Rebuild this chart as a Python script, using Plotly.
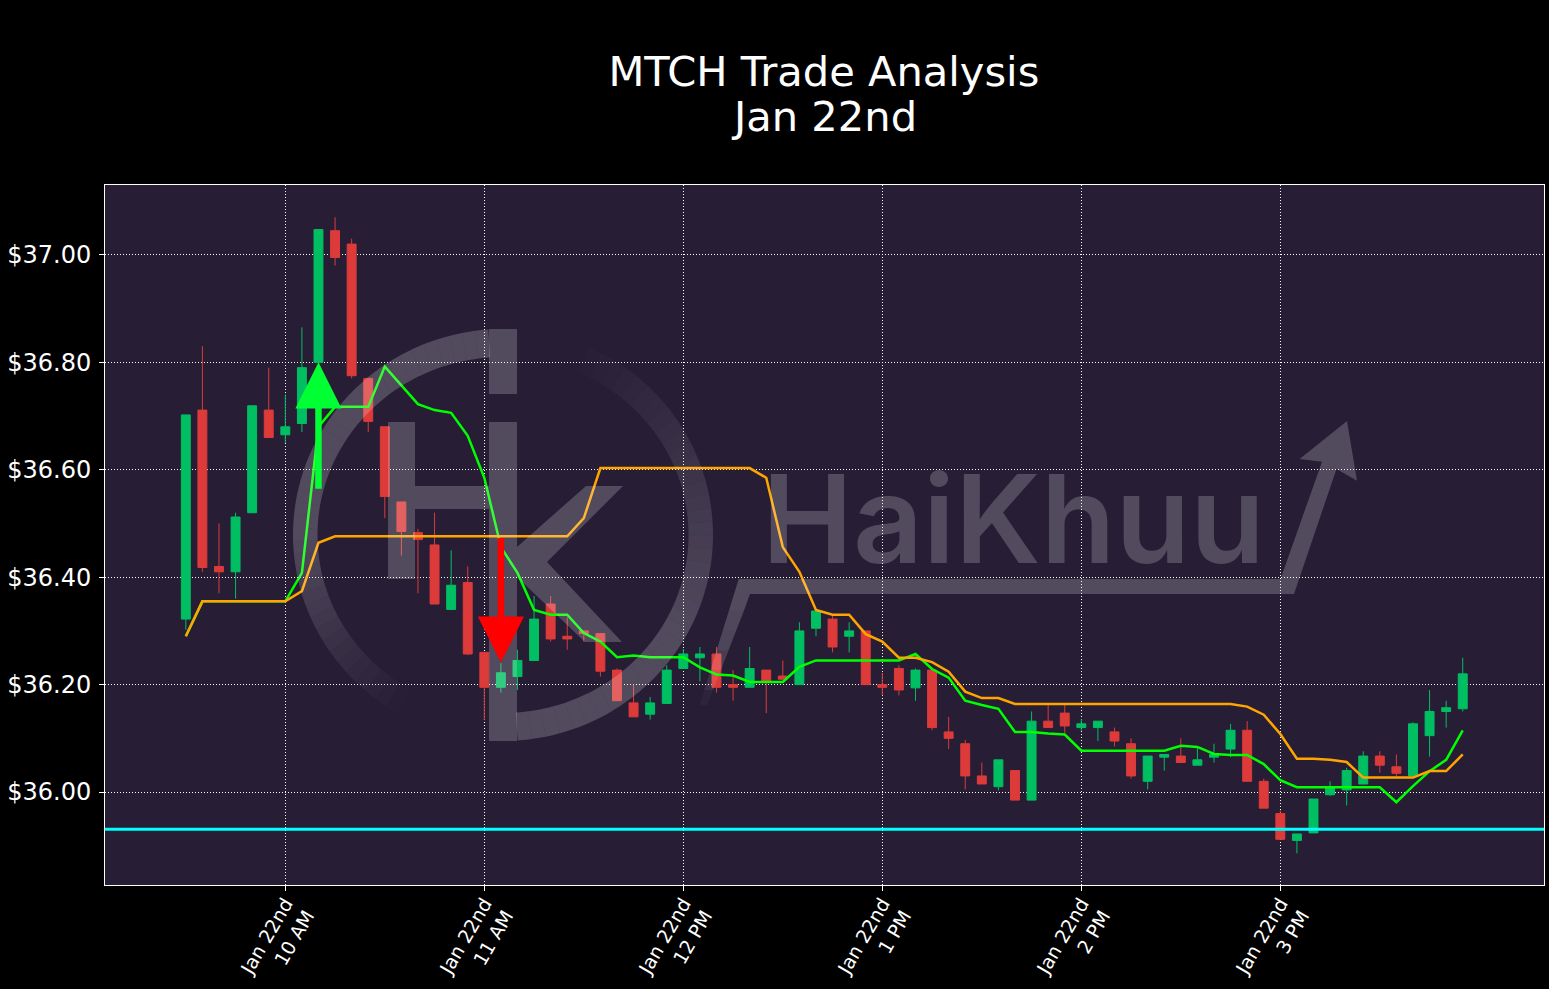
import numpy as np
import pandas as pd
import plotly.graph_objects as go

times = pd.date_range("2024-01-22 09:30", periods=78, freq="5min").strftime("%Y-%m-%d %H:%M").tolist()

opens = [36.322,36.711,36.42,36.41,36.52,36.711,36.665,36.686,36.80,37.045,37.02,36.77,36.68,36.54,36.483,36.46,36.34,36.39,36.26,36.195,
         36.215,36.245,36.35,36.29,36.30,36.295,36.227,36.166,36.145,36.165,36.23,36.25,36.257,36.20,36.195,36.227,36.216,36.20,36.305,36.322,
         36.29,36.30,36.20,36.23,36.194,36.227,36.112,36.09,36.03,36.01,36.04,35.985,36.132,36.147,36.12,36.12,36.112,36.09,36.02,36.065,
         36.067,36.05,36.065,36.08,36.115,36.02,35.96,35.91,35.924,35.995,36.004,36.015,36.067,36.047,36.03,36.105,36.15,36.155]
highs = [36.702,36.83,36.50,36.52,36.719,36.79,36.74,36.865,37.047,37.07,37.03,36.77,36.68,36.54,36.49,36.52,36.45,36.42,36.26,36.24,
         36.265,36.365,36.365,36.325,36.30,36.295,36.23,36.20,36.177,36.236,36.266,36.27,36.27,36.227,36.27,36.227,36.245,36.316,36.337,36.328,
         36.316,36.30,36.222,36.236,36.23,36.227,36.14,36.097,36.055,36.06,36.04,36.15,36.165,36.165,36.136,36.132,36.12,36.10,36.067,36.07,
         36.10,36.085,36.09,36.127,36.132,36.025,35.966,35.922,35.987,36.02,36.045,36.076,36.076,36.07,36.13,36.19,36.17,36.25]
lows = [36.302,36.41,36.37,36.36,36.52,36.66,36.65,36.67,36.80,36.98,36.77,36.67,36.51,36.44,36.37,36.35,36.34,36.255,36.134,36.185,
        36.19,36.245,36.28,36.265,36.28,36.215,36.17,36.14,36.135,36.165,36.23,36.206,36.185,36.17,36.195,36.147,36.21,36.20,36.29,36.26,
        36.26,36.20,36.18,36.18,36.17,36.115,36.08,36.005,36.015,36.003,35.985,35.985,36.12,36.11,36.114,36.095,36.085,36.025,36.005,36.04,
        36.055,36.05,36.055,36.065,36.02,35.97,35.912,35.886,35.924,35.993,35.975,36.015,36.036,36.03,36.03,36.066,36.12,36.15]
closes = [36.702,36.418,36.41,36.512,36.719,36.66,36.68,36.79,37.047,36.995,36.775,36.69,36.55,36.485,36.47,36.35,36.385,36.257,36.195,36.222,
          36.245,36.322,36.285,36.285,36.295,36.225,36.17,36.14,36.166,36.227,36.257,36.257,36.195,36.195,36.23,36.205,36.21,36.30,36.337,36.27,
          36.30,36.20,36.195,36.19,36.227,36.12,36.10,36.03,36.015,36.06,35.985,36.132,36.12,36.123,36.127,36.132,36.095,36.03,36.067,36.07,
          36.055,36.06,36.07,36.115,36.02,35.97,35.912,35.922,35.987,36.01,36.04,36.067,36.05,36.035,36.127,36.15,36.157,36.22]

fast_line = [36.29,36.355,36.355,36.355,36.355,36.355,36.355,36.408,36.68,36.717,36.717,36.717,36.792,36.756,36.722,36.711,36.706,36.663,36.585,36.456,
             36.408,36.339,36.33,36.33,36.296,36.28,36.251,36.254,36.251,36.251,36.251,36.232,36.219,36.217,36.205,36.205,36.205,36.233,36.245,36.245,
             36.245,36.245,36.245,36.245,36.257,36.229,36.213,36.17,36.162,36.155,36.112,36.112,36.109,36.107,36.077,36.077,36.077,36.077,36.077,36.077,
             36.086,36.084,36.071,36.069,36.069,36.052,36.022,36.009,36.009,36.009,36.009,36.009,36.009,35.981,36.011,36.039,36.06,36.115]
slow_line = [36.29,36.355,36.355,36.355,36.355,36.355,36.355,36.374,36.464,36.476,36.476,36.476,36.476,36.476,36.476,36.476,36.476,36.476,36.476,36.476,
             36.476,36.476,36.476,36.476,36.51,36.603,36.603,36.603,36.603,36.603,36.603,36.603,36.603,36.603,36.603,36.585,36.456,36.41,36.339,36.33,
             36.33,36.294,36.28,36.25,36.25,36.242,36.224,36.187,36.175,36.175,36.164,36.164,36.164,36.164,36.164,36.164,36.164,36.164,36.164,36.164,
             36.164,36.164,36.164,36.164,36.159,36.144,36.108,36.062,36.062,36.06,36.056,36.027,36.027,36.027,36.027,36.039,36.039,36.07]

support_level = 35.931
buy_time, buy_price = "2024-01-22 10:10", 36.80
sell_time, sell_price = "2024-01-22 11:05", 36.241

x_tick_vals = ["2024-01-22 10:00","2024-01-22 11:00","2024-01-22 12:00","2024-01-22 13:00","2024-01-22 14:00","2024-01-22 15:00"]
x_tick_text = ["Jan 22nd<br>10 AM","Jan 22nd<br>11 AM","Jan 22nd<br>12 PM","Jan 22nd<br>1 PM","Jan 22nd<br>2 PM","Jan 22nd<br>3 PM"]
y_tick_vals = [36.0,36.2,36.4,36.6,36.8,37.0]
y_tick_text = ["$36.00","$36.20","$36.40","$36.60","$36.80","$37.00"]

W, H = 1549, 989
L, R, T, B = 105, 1544, 185, 885
FONT = "DejaVu Sans"
WM_ALPHA = 0.2


def fx(px):
    return (px - L) / (R - L)


def fy(py):
    return (B - py) / (B - T)


def poly(points, alpha=WM_ALPHA):
    path = "M" + " L".join(f"{fx(a):.5f},{fy(b):.5f}" for a, b in points) + " Z"
    return dict(type="path", path=path, xref="paper", yref="paper", layer="above",
                fillcolor=f"rgba(255,255,255,{alpha:.3f})", line=dict(width=0))


def arc_segments(a0, a1, alpha_fn, n):
    cx, cy, ox, oy, ix, iy = 503, 535, 210, 206, 185.5, 178
    out = []
    edges = np.radians(np.linspace(a0, a1, n + 1))
    for k in range(n):
        sub = np.linspace(edges[k], edges[k + 1], 4)
        pts = [(cx + ox * np.cos(t), cy - oy * np.sin(t)) for t in sub]
        pts += [(cx + ix * np.cos(t), cy - iy * np.sin(t)) for t in sub[::-1]]
        mid = np.degrees((edges[k] + edges[k + 1]) / 2)
        out.append(poly(pts, alpha_fn(mid)))
    return out


def left_alpha(a):
    return float(np.clip(WM_ALPHA * (240 - a) / 60, 0, WM_ALPHA))


def right_alpha(a):
    return float(np.clip(WM_ALPHA * (70 - a) / 100, 0, WM_ALPHA))


wm = []
wm += arc_segments(94, 240, left_alpha, 40)
wm += arc_segments(-86, 70, right_alpha, 40)
wm.append(poly([(489, 329), (517, 329), (517, 394), (489, 394)]))
wm.append(poly([(489, 422), (517, 422), (517, 741), (489, 741)]))
wm.append(poly([(388, 422), (415, 422), (415, 486), (489, 486), (489, 509), (415, 509), (415, 579), (388, 579)]))
wm.append(poly([(517, 547), (586, 486), (623, 486), (547, 562), (622, 642), (585, 642), (517, 577)]))
wm.append(poly([(738.7, 579), (1280.5, 579), (1322, 461.7), (1299.6, 459), (1347, 421), (1357, 480.7),
                (1336.5, 469), (1294, 594), (750, 594), (744.2, 610), (729.1, 610)]))
prev_y = 610
for y_end, a in [(630, 0.19), (650, 0.18), (670, 0.15), (690, 0.09), (705, 0.03)]:
    x_a, x_b = 729.1 - (prev_y - 610) * 0.31, 744.2 - (prev_y - 610) * 0.388
    x_c, x_d = 744.2 - (y_end - 610) * 0.388, 729.1 - (y_end - 610) * 0.31
    wm.append(poly([(x_a, prev_y), (x_b, prev_y), (x_c, y_end), (x_d, y_end)], a))
    prev_y = y_end

fig = go.Figure()
fig.add_trace(go.Candlestick(
    x=times, open=opens, high=highs, low=lows, close=closes,
    increasing=dict(line=dict(color="#00BF63", width=1), fillcolor="#00BF63"),
    decreasing=dict(line=dict(color="#DC3B3A", width=1), fillcolor="#DC3B3A"),
    showlegend=False,
))
fig.add_trace(go.Scatter(x=times, y=fast_line, mode="lines", line=dict(color="#00FF00", width=2.5), showlegend=False))
fig.add_trace(go.Scatter(x=times, y=slow_line, mode="lines", line=dict(color="#FFA500", width=2.5), showlegend=False))

fig.add_hline(y=support_level, line=dict(color="#00FFFF", width=3))

fig.add_annotation(x=buy_time, y=buy_price, text="", showarrow=True, ax=0, ay=128,
                   arrowhead=2, arrowsize=1.42, arrowwidth=6.5, arrowcolor="#00FF33")
fig.add_annotation(x=sell_time, y=sell_price, text="", showarrow=True, ax=0, ay=-126,
                   arrowhead=2, arrowsize=1.42, arrowwidth=6.5, arrowcolor="#FF0000")
fig.add_annotation(x=fx(1013), y=fy(518), xref="paper", yref="paper", xanchor="center", yanchor="middle",
                   text="HaiKhuu", showarrow=False,
                   font=dict(family="Inter", size=122, color=f"rgba(255,255,255,{WM_ALPHA})", weight=600))
fig.add_annotation(x=fx(824), y=fy(117), xref="paper", yref="paper", xanchor="center", yanchor="middle",
                   text="Jan 22nd", showarrow=False,
                   font=dict(family=FONT, size=41.6, color="white"))

for s in wm:
    fig.add_shape(**s)

axis_common = dict(showline=True, linecolor="white", linewidth=1, mirror=True, automargin=False,
                   ticks="outside", ticklen=5, tickcolor="white", tickwidth=1,
                   showgrid=True, gridcolor="white", griddash="1px,2px", gridwidth=1, zeroline=False)

fig.update_layout(
    width=W, height=H,
    margin=dict(l=L, r=W - R, t=T, b=H - B, pad=0),
    paper_bgcolor="#000000",
    plot_bgcolor="#271D35",
    boxgap=0.23,
    font=dict(family=FONT, color="white"),
    title=dict(text="MTCH Trade Analysis", x=0.5319, xanchor="center", y=0.928, yanchor="middle",
               font=dict(family=FONT, size=41.6, color="white")),
    xaxis=dict(type="date", rangeslider=dict(visible=False),
               range=["2024-01-22 09:05:38", "2024-01-22 16:19:30"],
               tickvals=x_tick_vals, ticktext=x_tick_text, tickangle=-60, ticklabelstandoff=-6,
               tickfont=dict(family=FONT, size=19, color="white"), **axis_common),
    yaxis=dict(range=[35.827, 37.130], tickvals=y_tick_vals, ticktext=y_tick_text, ticklabelstandoff=3,
               tickfont=dict(family=FONT, size=24, color="white"), **axis_common),
)

fig.write_html("out.html", config={"displayModeBar": False},
               post_script="document.body.style.margin='0';document.documentElement.style.background='#000';")
